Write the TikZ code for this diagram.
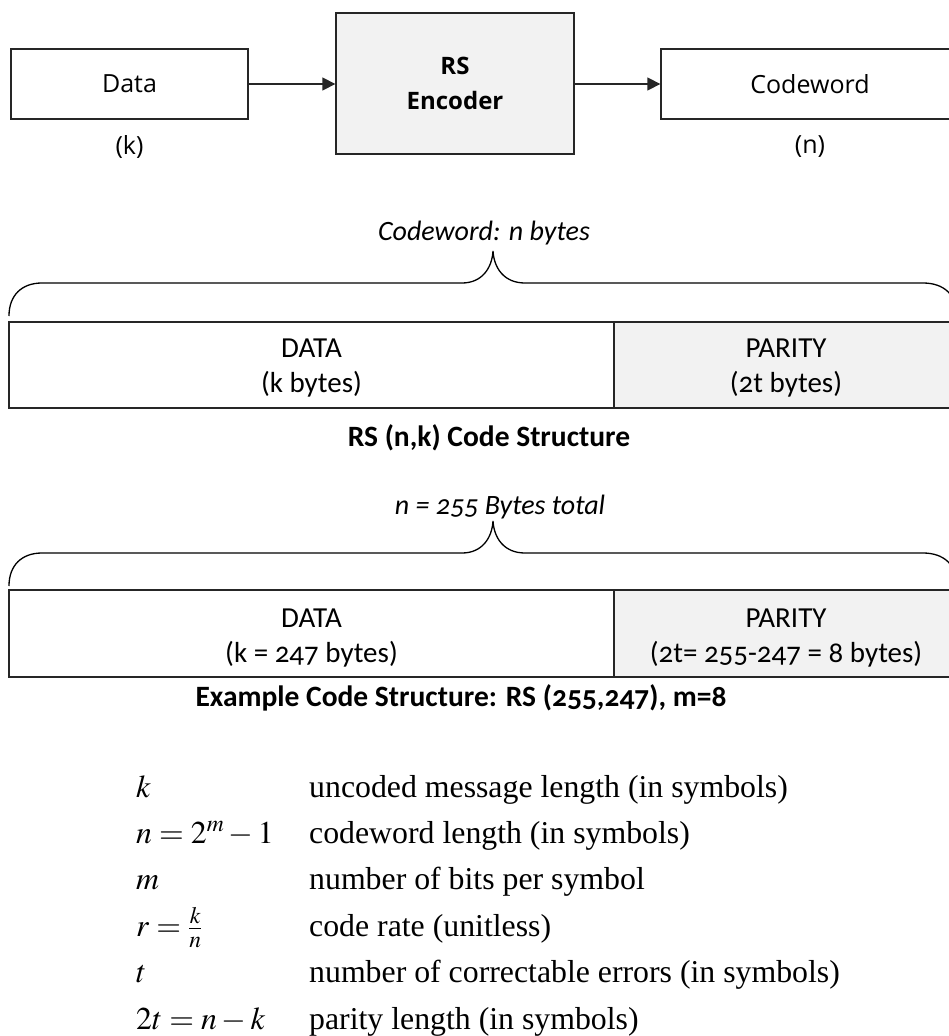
\documentclass[tikz,border=0pt]{standalone}
\usepackage{mathptmx}
\usepackage[no-math]{fontspec}
\setmainfont{Liberation Serif}
\newfontfamily\osans{Open Sans}
\newfontfamily\cand[Numbers=OldStyle]{Carlito}
\usetikzlibrary{arrows.meta}
\definecolor{boxgray}{HTML}{F2F2F2}
\definecolor{edge}{HTML}{262626}
\tikzset{
  blockbox/.style={draw=edge, line width=1.3pt, inner sep=0pt, align=center,
    font=\osans\fontsize{25}{30}\selectfont},
  encbox/.style={blockbox, fill=boxgray, font=\osans\bfseries\fontsize{24}{35}\selectfont},
  toplabel/.style={inner sep=0pt, font=\osans\fontsize{25}{30}\selectfont},
  arr/.style={line width=1.3pt, draw=edge, -{Triangle[length=13pt,width=13pt]}},
  segbox/.style={draw=edge, line width=1.3pt, inner sep=0pt},
  parbox/.style={segbox, fill=boxgray},
  segtext/.style={inner sep=0pt, align=center, font=\cand\fontsize{29}{35.5}\selectfont},
  bracetitle/.style={inner sep=0pt, font=\cand\itshape\fontsize{28}{34}\selectfont},
  caption/.style={inner sep=0pt, font=\cand\bfseries\fontsize{29.5}{34}\selectfont},
  brc/.style={line width=1.3pt, draw=black},
  symb/.style={anchor=base west, inner sep=0pt, font=\fontsize{31.8}{38}\selectfont},
  desc/.style={anchor=base west, inner sep=0pt, font=\fontsize{31.8}{38}\selectfont}
}
\begin{document}
\begin{tikzpicture}[x=1pt,y=-1pt]
\useasboundingbox (0,0) rectangle (949,1036);
\clip (0,0) rectangle (949,1036);
\fill[white] (0,0) rectangle (949,1036);

% --- encoder block diagram ---
\node[blockbox, minimum width=237pt, minimum height=70pt] (data) at (129.5,84) {Data};
\node[encbox, minimum width=238pt, minimum height=141pt] (enc) at (455,83.5) {RS\\Encoder};
\node[blockbox, minimum width=298pt, minimum height=70pt] (cw) at (810,84) {Codeword};
\draw[arr] (data.east) -- (data.east -| enc.west);
\draw[arr] (data.east -| enc.east) -- (data.east -| cw.west);
\node[toplabel] (klab) at (129.5,147) {(k)};
\node[toplabel] (nlab) at (810,147) {(n)};

% --- RS (n,k) code structure ---
\node[bracetitle] (t1) at (484,233) {Codeword: n bytes};
\draw[brc] (9,316) .. controls (9,295) and (22,283) .. (42,283) -- (462,283)
  .. controls (482,283) and (492,268) .. (493,251)
  .. controls (494,268) and (504,283) .. (525,283) -- (923,283)
  .. controls (944,283) and (957,295) .. (957,316);
\node[segbox, minimum width=605pt, minimum height=86pt] (d1) at (311.5,365) {};
\node[parbox, minimum width=344pt, minimum height=86pt] (p1) at (786,365) {};
\node[segtext] (d1t) at (311.5,368) {DATA\\(k bytes)};
\node[segtext] (p1t) at (786,368) {PARITY\\(2t bytes)};
\node[caption] (c1) at (489,438) {RS (n,k) Code Structure};

% --- example code structure ---
\node[bracetitle] (t2) at (500,507) {n = 255 Bytes total};
\draw[brc] (9,586) .. controls (9,565) and (22,553) .. (42,553) -- (462,553)
  .. controls (482,553) and (492,538) .. (493,521)
  .. controls (494,538) and (504,553) .. (525,553) -- (923,553)
  .. controls (944,553) and (957,565) .. (957,586);
\node[segbox, minimum width=605pt, minimum height=87pt] (d2) at (311.5,633.5) {};
\node[parbox, minimum width=344pt, minimum height=87pt] (p2) at (786,633.5) {};
\node[segtext] (d2t) at (311.5,638) {DATA\\(k = 247 bytes)};
\node[segtext] (p2t) at (786,638) {PARITY\\(2t= 255-247 = 8 bytes)};
\node[caption] (c2) at (461,698) {Example Code Structure: RS (255,247), m=8};

% --- symbol table ---
\node[symb] (s1) at (136,797.0) {$k$};
\node[desc] (e1) at (309,797.0) {uncoded message length (in symbols)};
\node[symb] (s2) at (136,843.4) {$n=2^m-1$};
\node[desc] (e2) at (309,843.4) {codeword length (in symbols)};
\node[symb] (s3) at (136,889.8) {$m$};
\node[desc] (e3) at (309,889.8) {number of bits per symbol};
\node[symb] (s4) at (136,936.2) {$r=\frac{k}{n}$};
\node[desc] (e4) at (309,936.2) {code rate (unitless)};
\node[symb] (s5) at (136,982.6) {$t$};
\node[desc] (e5) at (309,982.6) {number of correctable errors (in symbols)};
\node[symb] (s6) at (136,1029.0) {$2t=n-k$};
\node[desc] (e6) at (309,1029.0) {parity length (in symbols)};
\end{tikzpicture}
\end{document}
